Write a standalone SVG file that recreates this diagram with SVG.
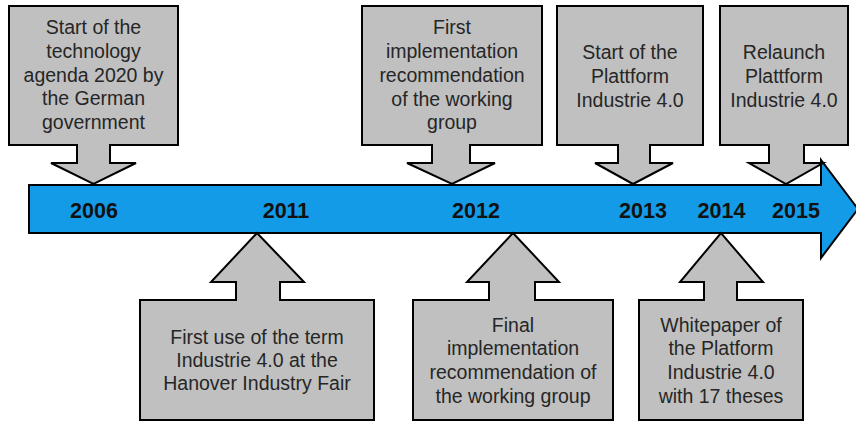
<svg xmlns="http://www.w3.org/2000/svg" width="856" height="424" viewBox="0 0 856 424">
<style>
.c{fill:#c0c0c0;stroke:#000;stroke-width:2;stroke-linejoin:miter}
.t{font-family:"Liberation Sans",Arial,sans-serif;font-size:19.5px;fill:#262626;text-anchor:middle}
.y{font-family:"Liberation Sans",Arial,sans-serif;font-size:21.5px;font-weight:bold;fill:#111;text-anchor:middle}
</style>
<rect width="856" height="424" fill="#fff"/>
<g id="timeline">
<path d="M29 185 H821 V160 L858 209 L821 258 V233 H29 Z" fill="#139be8" stroke="#000" stroke-width="2"/>
<text class="y" x="94" y="218">2006</text>
<text class="y" x="286" y="218">2011</text>
<text class="y" x="476" y="218">2012</text>
<text class="y" x="643" y="218">2013</text>
<text class="y" x="721.5" y="218">2014</text>
<text class="y" x="796" y="218">2015</text>
</g>
<g id="connectors"></g>
<g id="e2006">
<path class="c" d="M9 6 H178 V145 H110 V163 H136 L93.5 184 L51 163 H77 V145 H9 Z"/>
<text class="t"><tspan x="93.5" y="34">Start of the</tspan><tspan x="93.5" y="58">technology</tspan><tspan x="93.5" y="82">agenda 2020 by</tspan><tspan x="93.5" y="105">the German</tspan><tspan x="93.5" y="129">government</tspan></text>
</g>
<g id="e2012a">
<path class="c" d="M362 6 H542 V145 H470 V163 H495 L452 184 L407 163 H432 V145 H362 Z"/>
<text class="t"><tspan x="452" y="34">First</tspan><tspan x="452" y="58">implementation</tspan><tspan x="452" y="82">recommendation</tspan><tspan x="452" y="106">of the working</tspan><tspan x="452" y="129">group</tspan></text>
</g>
<g id="e2013">
<path class="c" d="M557 6 H703 V145 H650 V163 H673 L633 184 L595 163 H618 V145 H557 Z"/>
<text class="t"><tspan x="630" y="59">Start of the</tspan><tspan x="630" y="83">Plattform</tspan><tspan x="630" y="107">Industrie 4.0</tspan></text>
</g>
<g id="e2015">
<path class="c" d="M720 6 H848 V145 H804 V163 H823 L786 184 L749 163 H769 V145 H720 Z"/>
<text class="t"><tspan x="784" y="59">Relaunch</tspan><tspan x="784" y="83">Plattform</tspan><tspan x="784" y="107">Industrie 4.0</tspan></text>
</g>
<g id="e2011">
<path class="c" d="M140 300 H236 V282 H211 L257 233 L304 282 H280 V300 H374 V420 H140 Z"/>
<text class="t"><tspan x="257" y="344">First use of the term</tspan><tspan x="257" y="367">Industrie 4.0 at the</tspan><tspan x="257" y="390">Hanover Industry Fair</tspan></text>
</g>
<g id="e2012b">
<path class="c" d="M413 300 H489 V282 H467 L513 233 L559 282 H535 V300 H613 V420 H413 Z"/>
<text class="t"><tspan x="513" y="332">Final</tspan><tspan x="513" y="355">implementation</tspan><tspan x="513" y="379">recommendation of</tspan><tspan x="513" y="403">the working group</tspan></text>
</g>
<g id="e2014">
<path class="c" d="M639 300 H704 V282 H680 L721 233 L763 282 H737 V300 H803 V420 H639 Z"/>
<text class="t"><tspan x="721" y="332">Whitepaper of</tspan><tspan x="721" y="355">the Platform</tspan><tspan x="721" y="379">Industrie 4.0</tspan><tspan x="721" y="403">with 17 theses</tspan></text>
</g>
</svg>
